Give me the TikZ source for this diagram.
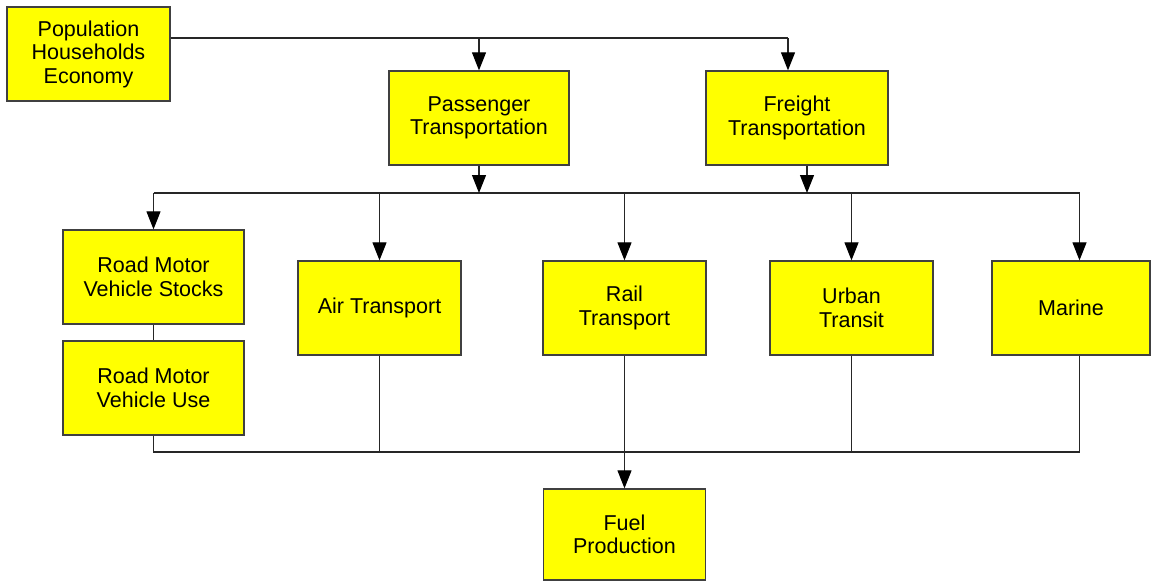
\documentclass[tikz,border=0pt]{standalone}
\usepackage{fontspec}
\setmainfont{Liberation Sans}
\usetikzlibrary{arrows.meta}
\tikzset{
  box/.style={draw=black!75, line width=1.3pt, fill={rgb,255:red,255;green,255;blue,0},
    align=center, inner sep=0pt, font=\fontsize{21.5}{23.5}\selectfont,
    minimum width=163pt, minimum height=94pt},
  conn/.style={draw=black!85, line width=1.1pt},
  arr/.style={conn, -{Triangle[length=18pt,width=14pt,color=black]}}
}
\begin{document}
\begin{tikzpicture}[x=1pt,y=-1pt]
\useasboundingbox (0,0) rectangle (1151,582);
\node[box] (pop) at (88.5,54) {Population\\Households\\Economy};
\node[box, minimum width=180pt] (pass) at (479,118) {Passenger\\Transportation};
\node[box, minimum width=182pt] (freight) at (797,118) {Freight\\Transportation};
\node[box, minimum width=181pt] (stocks) at (153.5,277) {Road Motor\\Vehicle Stocks};
\node[box, minimum width=181pt] (use) at (153.5,388) {Road Motor\\Vehicle Use};
\node[box] (air) at (379.5,308) {Air Transport};
\node[box] (rail) at (624.5,308) {Rail\\Transport};
\node[box] (urban) at (851.5,308) {Urban\\Transit};
\node[box, minimum width=158pt] (marine) at (1071,308) {Marine};
\node[box, minimum width=162pt, minimum height=91pt] (fuel) at (624.5,534.5) {Fuel\\Production};

\coordinate (topR) at (788,38);
\draw[conn] ([yshift=16pt]pop.east) -- (topR);
\draw[arr] (pass.north |- topR) -- (pass.north);
\draw[arr] (topR) -- (topR |- freight.north);

\coordinate (midL) at (153.5,193);
\coordinate (midR) at (1079.5,193);
\draw[conn] (midL) -- (midR);
\draw[arr] (pass.south) -- (pass.south |- midL);
\draw[arr] ([xshift=10pt]freight.south) -- ([xshift=10pt]freight.south |- midL);
\draw[arr] (midL) -- (stocks.north);
\draw[arr] (air.north |- midL) -- (air.north);
\draw[arr] (rail.north |- midL) -- (rail.north);
\draw[arr] (urban.north |- midL) -- (urban.north);
\draw[arr] (midR) -- (midR |- marine.north);

\draw[conn] (stocks) -- (use);

\coordinate (botL) at (153.5,452);
\coordinate (botR) at (1079.5,452);
\draw[conn] (use.south) -- (botL) -- (botR) -- (botR |- marine.south);
\draw[conn] (air.south) -- (air.south |- botL);
\draw[conn] (urban.south) -- (urban.south |- botL);
\draw[arr] (rail.south) -- (fuel.north);
\end{tikzpicture}
\end{document}
